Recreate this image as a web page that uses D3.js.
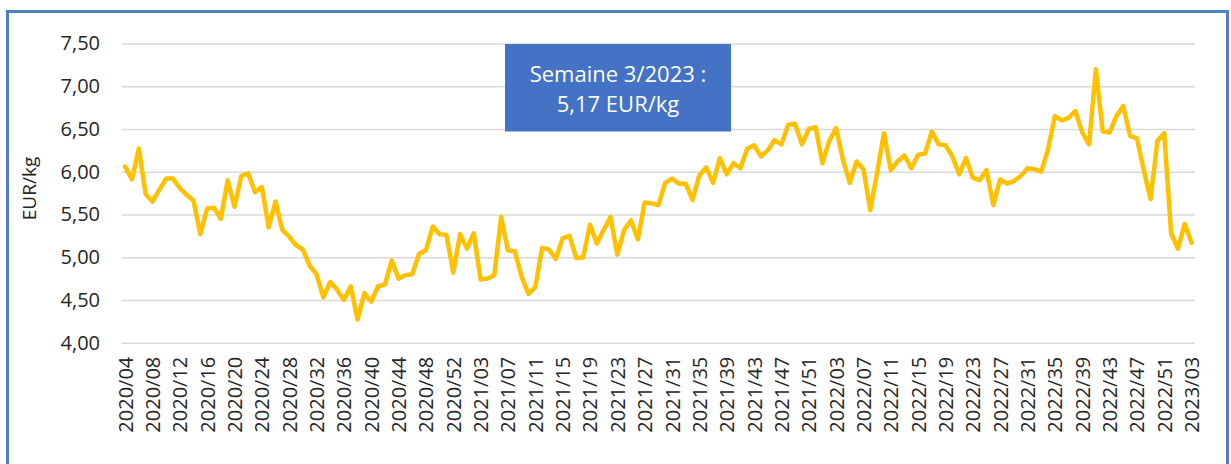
<!DOCTYPE html>
<html>
<head>
<meta charset="utf-8">
<script src="https://cdn.jsdelivr.net/npm/d3@7"></script>
<style>
  html, body { margin: 0; padding: 0; background: #fff; }
  svg { display: block; }
  text { font-family: "Open Sans", "DejaVu Sans", sans-serif; }
</style>
</head>
<body>
<svg id="chart" width="1231" height="464"></svg>
<script>
// Weekly prices, EUR/kg
const prices2020 = [ // weeks 4..53
  6.06, 5.91, 6.27, 5.74, 5.65, 5.79, 5.92, 5.92, 5.81, 5.73,
  5.66, 5.27, 5.57, 5.58, 5.45, 5.90, 5.59, 5.95, 5.98, 5.76,
  5.82, 5.35, 5.65, 5.32, 5.24, 5.14, 5.09, 4.90, 4.80, 4.53,
  4.71, 4.62, 4.50, 4.66, 4.27, 4.58, 4.48, 4.66, 4.68, 4.96,
  4.75, 4.79, 4.80, 5.04, 5.08, 5.36, 5.27, 5.26, 4.82, 5.27
];
const prices2021 = [ // weeks 1..52
  5.10, 5.28, 4.74, 4.75, 4.79, 5.47, 5.08, 5.07, 4.77, 4.57,
  4.65, 5.11, 5.09, 4.98, 5.22, 5.25, 4.99, 5.00, 5.38, 5.16,
  5.32, 5.47, 5.03, 5.32, 5.43, 5.21, 5.64, 5.63, 5.61, 5.87,
  5.92, 5.86, 5.86, 5.67, 5.96, 6.05, 5.87, 6.16, 5.97, 6.10,
  6.04, 6.27, 6.31, 6.18, 6.25, 6.37, 6.32, 6.55, 6.56, 6.32,
  6.50, 6.52
];
const prices2022 = [ // weeks 1..52
  6.10, 6.36, 6.51, 6.14, 5.87, 6.12, 6.03, 5.55, 5.99, 6.45,
  6.02, 6.12, 6.19, 6.04, 6.20, 6.21, 6.47, 6.32, 6.31, 6.18,
  5.97, 6.16, 5.93, 5.90, 6.02, 5.61, 5.91, 5.86, 5.89, 5.95,
  6.04, 6.03, 6.00, 6.26, 6.65, 6.60, 6.63, 6.71, 6.46, 6.32,
  7.20, 6.47, 6.46, 6.65, 6.77, 6.42, 6.39, 6.02, 5.68, 6.36,
  6.45, 5.28
];
const prices2023 = [ // weeks 1..3
  5.10, 5.39, 5.17
];

const yearSeries = [
  { year: 2020, firstWeek: 4, values: prices2020 },
  { year: 2021, firstWeek: 1, values: prices2021 },
  { year: 2022, firstWeek: 1, values: prices2022 },
  { year: 2023, firstWeek: 1, values: prices2023 }
];

const yTicks = [4.0, 4.5, 5.0, 5.5, 6.0, 6.5, 7.0, 7.5];
const yTickLabels = ["4,00", "4,50", "5,00", "5,50", "6,00", "6,50", "7,00", "7,50"];

const xTickLabels = [
  "2020/04", "2020/08", "2020/12", "2020/16", "2020/20", "2020/24", "2020/28",
  "2020/32", "2020/36", "2020/40", "2020/44", "2020/48", "2020/52",
  "2021/03", "2021/07", "2021/11", "2021/15", "2021/19", "2021/23", "2021/27",
  "2021/31", "2021/35", "2021/39", "2021/43", "2021/47", "2021/51",
  "2022/03", "2022/07", "2022/11", "2022/15", "2022/19", "2022/23", "2022/27",
  "2022/31", "2022/35", "2022/39", "2022/43", "2022/47", "2022/51",
  "2023/03"
];

const yAxisTitle = "EUR/kg";
const noteLines = ["Semaine 3/2023 :", "5,17 EUR/kg"];

// Flatten into one weekly table: label "YYYY/WW" + price
const data = [];
yearSeries.forEach(s => {
  s.values.forEach((v, k) => {
    const wk = s.firstWeek + k;
    data.push({ week: s.year + "/" + String(wk).padStart(2, "0"), value: v });
  });
});

const svg = d3.select("#chart");

// Outer frame
svg.append("rect")
  .attr("x", 7.5).attr("y", 11.5)
  .attr("width", 1220).attr("height", 470)
  .attr("fill", "none")
  .attr("stroke", "#4f81bd")
  .attr("stroke-width", 3);

const plot = { left: 121.7, right: 1195, top: 43.5, bottom: 342.7 };

const x = d3.scalePoint()
  .domain(data.map(d => d.week))
  .range([plot.left, plot.right])
  .padding(0.5);

const y = d3.scaleLinear()
  .domain([4, 7.5])
  .range([plot.bottom, plot.top]);

// Horizontal gridlines + value labels
const yAxis = d3.axisLeft(y)
  .tickValues(yTicks)
  .tickSize(-(plot.right - plot.left))
  .tickPadding(22)
  .tickFormat((d, i) => yTickLabels[i]);

const gy = svg.append("g")
  .attr("transform", `translate(${plot.left},0)`)
  .call(yAxis);
gy.select(".domain").remove();
gy.selectAll(".tick line")
  .attr("stroke", "#d9d9d9")
  .attr("stroke-width", 1.6);
gy.selectAll(".tick text")
  .attr("x", 100 - plot.left)
  .attr("fill", "#262626")
  .style("font-size", "20px")
  .style("font-family", "'Open Sans', 'DejaVu Sans', sans-serif");

// Category axis: every 4th week, labels rotated
const xAxis = d3.axisBottom(x)
  .tickValues(xTickLabels)
  .tickSize(0)
  .tickPadding(0);

const gx = svg.append("g")
  .attr("transform", `translate(0,${plot.bottom})`)
  .call(xAxis);
gx.select(".domain").remove();
gx.selectAll(".tick text")
  .attr("transform", "rotate(-90)")
  .attr("x", -14)
  .attr("y", 0)
  .attr("dy", "0.35em")
  .attr("text-anchor", "end")
  .attr("fill", "#262626")
  .style("font-size", "20px")
  .style("font-family", "'Open Sans', 'DejaVu Sans', sans-serif");

// Y axis title
svg.append("text")
  .attr("transform", "translate(29,188.5) rotate(-90)")
  .attr("text-anchor", "middle")
  .attr("dy", "0.35em")
  .attr("fill", "#262626")
  .style("font-size", "19px")
  .text(yAxisTitle);

// Price line
const line = d3.line()
  .x(d => x(d.week))
  .y(d => y(d.value));

svg.append("path")
  .datum(data)
  .attr("d", line)
  .attr("fill", "none")
  .attr("stroke", "#ffc000")
  .attr("stroke-width", 4.5)
  .attr("stroke-linejoin", "round")
  .attr("stroke-linecap", "round");

// Latest-week note
const note = svg.append("g");
note.append("rect")
  .attr("x", 505).attr("y", 44)
  .attr("width", 226).attr("height", 87.5)
  .attr("fill", "#4472c4");
note.selectAll("text.note")
  .data(noteLines)
  .join("text")
  .attr("class", "note")
  .attr("x", 618)
  .attr("y", (d, i) => 82 + i * 30)
  .attr("text-anchor", "middle")
  .attr("fill", "#ffffff")
  .style("font-size", "22px")
  .text(d => d);
</script>
</body>
</html>
